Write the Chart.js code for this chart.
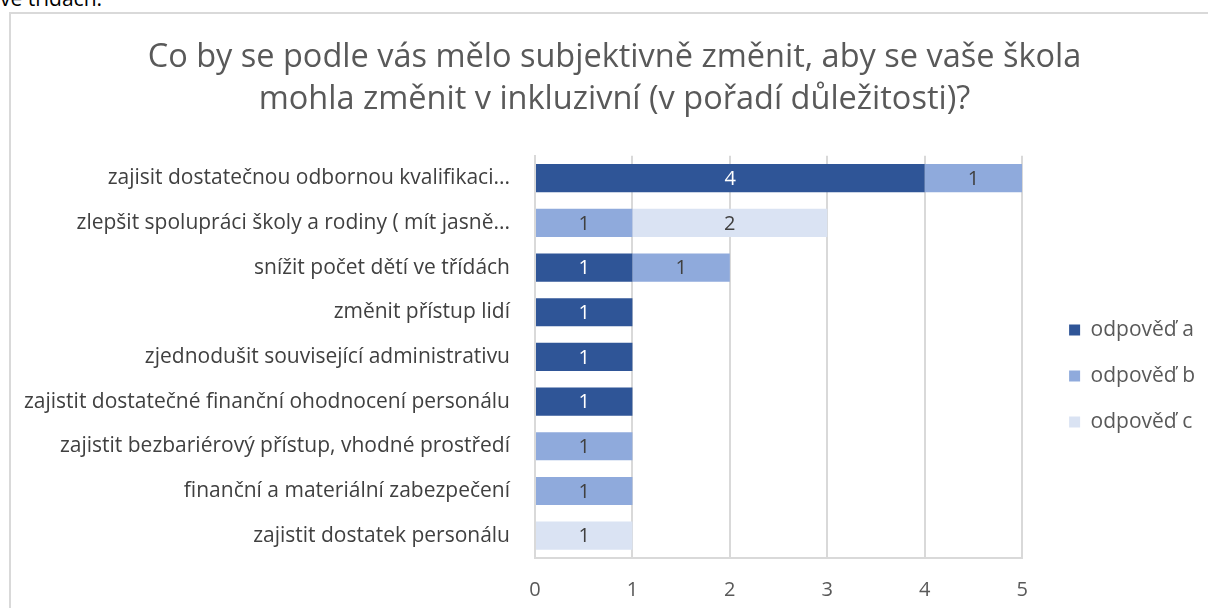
<!DOCTYPE html>
<html>
<head>
<meta charset="utf-8">
<script src="https://cdn.jsdelivr.net/npm/chart.js@4/dist/chart.umd.min.js"></script>
<style>
  html, body { margin: 0; padding: 0; background: #fff; overflow: hidden; }
  #wrap { position: relative; width: 1208px; height: 608px; }
  #above { position: absolute; left: 0; top: -16px; font-family: 'Open Sans', sans-serif; font-size: 21px; color: #000; }
  #frame { position: absolute; left: 9px; top: 12px; width: 1300px; height: 700px; border: 2px solid #d9d9d9; }
  #myChart { position: absolute; left: 0; top: 0; }
</style>
</head>
<body>
<div id="wrap">
  <div id="above">ve třídách.</div>
  <div id="frame"></div>
  <canvas id="myChart" width="1208" height="608"></canvas>
</div>
<script>
var title_lines = ["Co by se podle vás mělo subjektivně změnit, aby se vaše škola", "mohla změnit v inkluzivní (v pořadí důležitosti)?"];
var labels = [
	"zajisit dostatečnou odbornou kvalifikaci...",
	"zlepšit spolupráci školy a rodiny ( mít jasně...",
	"snížit počet dětí ve třídách",
	"změnit přístup lidí",
	"zjednodušit související administrativu",
	"zajistit dostatečné finanční ohodnocení personálu",
	"zajistit bezbariérový přístup, vhodné prostředí",
	"finanční a materiální zabezpečení",
	"zajistit dostatek personálu"
];
var series_names = ["odpověď a", "odpověď b", "odpověď c"];
var answer_a = [4, 0, 1, 1, 1, 1, 0, 0, 0];
var answer_b = [1, 1, 1, 0, 0, 0, 1, 1, 0];
var answer_c = [0, 2, 0, 0, 0, 0, 0, 0, 1];
var x_ticks = [0, 1, 2, 3, 4, 5];

var colors = ["#2F5597", "#8FAADC", "#DAE3F3"];
var label_colors = ["#ffffff", "#404040", "#404040"];
var font_family = "'Open Sans', 'Liberation Sans', sans-serif";

// draws the value in the middle of each bar segment
var barLabels = {
	id: 'barLabels',
	afterDatasetsDraw: function(chart) {
		var ctx = chart.ctx;
		ctx.save();
		ctx.font = "20px " + font_family;
		ctx.textAlign = "center";
		ctx.textBaseline = "middle";
		chart.data.datasets.forEach(function(ds, i) {
			var meta = chart.getDatasetMeta(i);
			meta.data.forEach(function(bar, j) {
				var v = ds.data[j];
				if (!v) return;
				var c = bar.getCenterPoint();
				ctx.fillStyle = label_colors[i];
				ctx.fillText(String(v), c.x, c.y + 1);
			});
		});
		ctx.restore();
	}
};

var ctx = document.getElementById('myChart').getContext('2d');
var chart = new Chart(ctx, {
	type: 'bar',
	data: {
		labels: labels,
		datasets: [
			{ label: series_names[0], data: answer_a, backgroundColor: colors[0] },
			{ label: series_names[1], data: answer_b, backgroundColor: colors[1] },
			{ label: series_names[2], data: answer_c, backgroundColor: colors[2] }
		]
	},
	plugins: [barLabels],
	options: {
		responsive: false,
		animation: false,
		indexAxis: 'y',
		layout: { padding: { left: 24, right: 3, top: 0, bottom: -2 } },
		datasets: { bar: { categoryPercentage: 1, barPercentage: 0.63, borderWidth: 0 } },
		scales: {
			x: {
				stacked: true,
				min: 0,
				max: 5,
				afterBuildTicks: function(scale) {
					scale.ticks = x_ticks.map(function(v) { return {value: v}; });
				},
				grid: { color: "#d9d9d9", lineWidth: 2, drawTicks: true, tickLength: 12, tickColor: 'rgba(0,0,0,0)' },
				border: { color: "#d9d9d9", width: 2 },
				ticks: { color: "#595959", padding: 8, font: { family: font_family, size: 20 } }
			},
			y: {
				stacked: true,
				grid: { display: false },
				border: { color: "#d9d9d9", width: 2 },
				afterFit: function(scale) { scale.width = 511; },
				ticks: { color: "#404040", padding: 17, font: { family: font_family, size: 21 } }
			},
			// empty spacer between plot area and legend
			gap: {
				type: 'category',
				position: 'right',
				grid: { display: false },
				border: { display: false },
				ticks: { display: false },
				afterFit: function(scale) { scale.width = 22; }
			}
		},
		plugins: {
			title: {
				display: true,
				text: title_lines,
				color: "#595959",
				font: { family: font_family, size: 32.5, weight: 'normal', lineHeight: 1.29 },
				padding: { top: 37, bottom: 35 }
			},
			legend: {
				position: 'right',
				align: 'center',
				// empty title only pushes the entries down
				title: { display: true, text: '', font: { size: 10, lineHeight: 1.2 }, padding: { top: 130, bottom: 0 } },
				labels: {
					color: "#595959",
					boxWidth: 11,
					boxHeight: 11,
					padding: 25,
					font: { family: font_family, size: 21 }
				}
			},
			tooltip: { enabled: false }
		}
	}
});
</script>
</body>
</html>
